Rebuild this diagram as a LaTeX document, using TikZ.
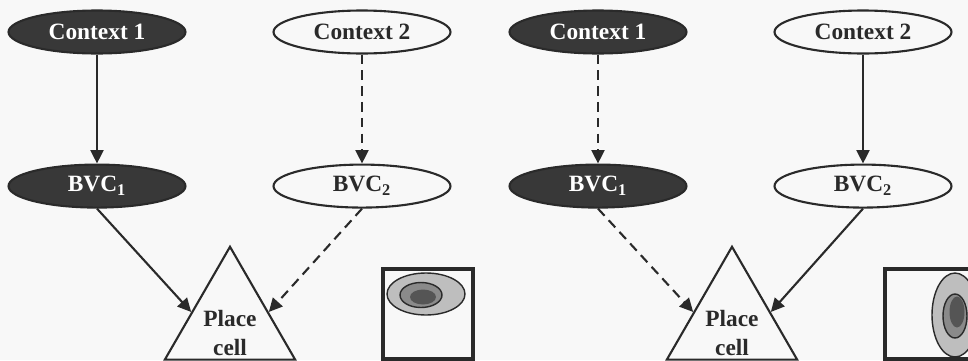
\documentclass[tikz,border=0pt]{standalone}
\usepackage{fontspec}
\setmainfont{Liberation Serif}
\usetikzlibrary{arrows.meta,calc,positioning,shapes.geometric}
\definecolor{ink}{HTML}{2A2A2A}
\definecolor{paper}{HTML}{F8F8F8}
\definecolor{firing}{HTML}{383838}
\definecolor{fieldout}{HTML}{BEBEBE}
\definecolor{fieldmid}{HTML}{8A8A8A}
\definecolor{fieldin}{HTML}{555555}
\tikzset{
  cellnode/.style={ellipse, draw=ink, line width=1.2pt, minimum width=3.54cm,
    minimum height=0.86cm, inner sep=0pt, font=\bfseries\fontsize{13.3}{15}\selectfont},
  oncell/.style={cellnode, fill=firing, text=white},
  offcell/.style={cellnode, fill=paper, text=ink},
  placenode/.style={regular polygon, regular polygon sides=3, draw=ink, line width=1.2pt,
    fill=paper, minimum size=2.9cm, inner sep=0pt, text=ink,
    font=\bfseries\fontsize{13.3}{17}\selectfont},
  fieldbox/.style={draw=ink, line width=2pt, minimum size=1.8cm, inner sep=0pt},
  ring/.style={draw=ink, line width=0.8pt},
  strong/.style={-{Triangle[length=2.7mm, width=2.6mm]}, line width=1.2pt, draw=ink},
  weak/.style={strong, dash pattern=on 5.5pt off 3.5pt}
}
% two-line label set low in the triangle, without growing the shape
\newcommand{\lowlabel}[1]{\raisebox{-11pt}[0pt][0pt]{\begin{tabular}{@{}c@{}}#1\end{tabular}}}

\begin{document}
\begin{tikzpicture}[x=0.02cm, y=0.02cm, node distance=2.18cm]
  \useasboundingbox (0,0) rectangle (968,360);
  \fill[paper] (0,0) rectangle (968,360);
  \clip (0,0) rectangle (968,360);

  % first context: context 1 drives BVC_1
  \node[oncell] (c1L) at (97,328) {Context 1};
  \node[offcell] (c2L) at (362,328) {Context 2};
  \node[oncell, below=of c1L] (b1L) {BVC\textsubscript{1}};
  \node[offcell, below=of c2L] (b2L) {BVC\textsubscript{2}};
  \node[placenode] (pcL) at (230,38) {\lowlabel{Place\\cell}};
  \draw[strong] (c1L) -- (b1L);
  \draw[weak] (c2L) -- (b2L);
  \draw[strong] (b1L.south) -- ($(pcL.corner 1)!0.58!(pcL.corner 2)$);
  \draw[weak] (b2L.south) -- ($(pcL.corner 1)!0.58!(pcL.corner 3)$);

  % place field, wide along x
  \node[fieldbox] (fieldL) at (428,46) {};
  \begin{scope}[shift={(fieldL.center)}]
    \filldraw[ring, fill=fieldout] (-2,20) ellipse [x radius=39, y radius=21];
    \filldraw[ring, fill=fieldmid] (-7,19) ellipse [x radius=21, y radius=12.5];
    \fill[fieldin] (-5,17) ellipse [x radius=13, y radius=7.5];
  \end{scope}
  \node[fieldbox] at (fieldL) {};

  % second context: context 2 drives BVC_2
  \node[oncell] (c1R) at (598,328) {Context 1};
  \node[offcell] (c2R) at (863,328) {Context 2};
  \node[oncell, below=of c1R] (b1R) {BVC\textsubscript{1}};
  \node[offcell, below=of c2R] (b2R) {BVC\textsubscript{2}};
  \node[placenode] (pcR) at (732,38) {\lowlabel{Place\\cell}};
  \draw[weak] (c1R) -- (b1R);
  \draw[strong] (c2R) -- (b2R);
  \draw[weak] (b1R.south) -- ($(pcR.corner 1)!0.58!(pcR.corner 2)$);
  \draw[strong] (b2R.south) -- ($(pcR.corner 1)!0.58!(pcR.corner 3)$);

  % place field, long along y
  \node[fieldbox] (fieldR) at (930,46) {};
  \begin{scope}[shift={(fieldR.center)}]
    \filldraw[ring, fill=fieldout] (25,-1) ellipse [x radius=23, y radius=42];
    \filldraw[ring, fill=fieldmid] (25,-2) ellipse [x radius=12, y radius=22];
    \fill[fieldin] (27,2) ellipse [x radius=7.5, y radius=15.5];
  \end{scope}
  \node[fieldbox] at (fieldR) {};
\end{tikzpicture}
\end{document}
